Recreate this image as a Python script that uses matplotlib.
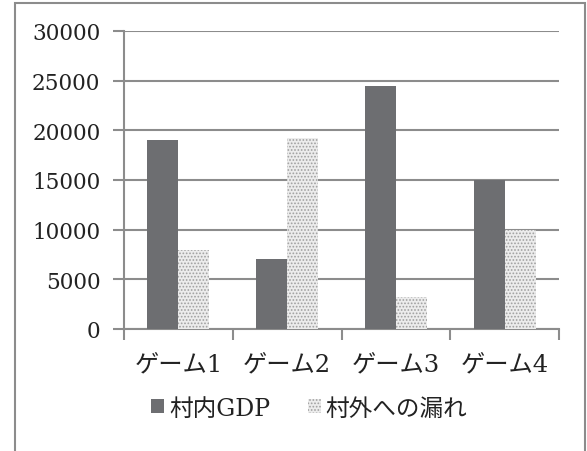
import matplotlib.pyplot as plt
from matplotlib.patches import Rectangle
import numpy as np

games = ['ゲーム1', 'ゲーム2', 'ゲーム3', 'ゲーム4']
gdp_in = [19000, 7000, 24500, 15000]
leak_out = [8000, 19200, 3200, 10000]
yticks = [0, 5000, 10000, 15000, 20000, 25000, 30000]

plt.rcParams['font.family'] = ['DejaVu Serif', 'Noto Sans CJK JP']
plt.rcParams['hatch.color'] = '#8a8a8a'
plt.rcParams['hatch.linewidth'] = 0.8

fig = plt.figure(figsize=(5.87, 4.52), dpi=100)
ax = fig.add_axes([124 / 587, 1 - 330 / 452, (559 - 124) / 587, (330 - 32) / 452])

x = np.arange(len(games))
w = 1 / 3.5
ax.bar(x - w / 2, gdp_in, w, color='#6d6e71', label='村内GDP', zorder=3)
ax.bar(x + w / 2, leak_out, w, color='#ececec', hatch='.....', edgecolor='#a0a0a0',
       linewidth=0, label='村外への漏れ', zorder=3)

ax.set_xlim(-0.5, 3.5)
ax.set_ylim(0, 30000)
ax.set_yticks(yticks)
ax.set_yticklabels([str(v) for v in yticks], fontsize=15.5, color='#222222')
ax.set_xticks(x)
ax.set_xticklabels(games, fontsize=17.5, color='#222222')
ax.set_xticks(np.arange(-0.5, 4.0, 1.0), minor=True)
ax.tick_params(axis='x', which='major', length=0, pad=17)
ax.tick_params(axis='x', which='minor', length=8, width=1.5, color='#8c8c8c')
ax.tick_params(axis='y', length=8, width=1.5, color='#8c8c8c', pad=9)

ax.grid(axis='y', color='#8c8c8c', linewidth=1.5, zorder=0)
for s in ['top', 'right']:
    ax.spines[s].set_visible(False)
ax.spines['left'].set_color('#8c8c8c')
ax.spines['left'].set_linewidth(1.5)
ax.spines['bottom'].set_color('#8c8c8c')
ax.spines['bottom'].set_linewidth(1.5)

fig.legend(loc='center', bbox_to_anchor=(0.527, 1 - 409 / 452), ncol=2, frameon=False,
           fontsize=17, handlelength=0.55, handleheight=0.55, handletextpad=0.2,
           columnspacing=1.6, labelcolor='#222222')

fig.patches.append(Rectangle((15 / 587, -0.05), (585 - 15) / 587, 1.05 - 4 / 452,
                             transform=fig.transFigure, fill=False,
                             edgecolor='#8c8c8c', linewidth=1.5))

fig.savefig('out.png', dpi=100)
